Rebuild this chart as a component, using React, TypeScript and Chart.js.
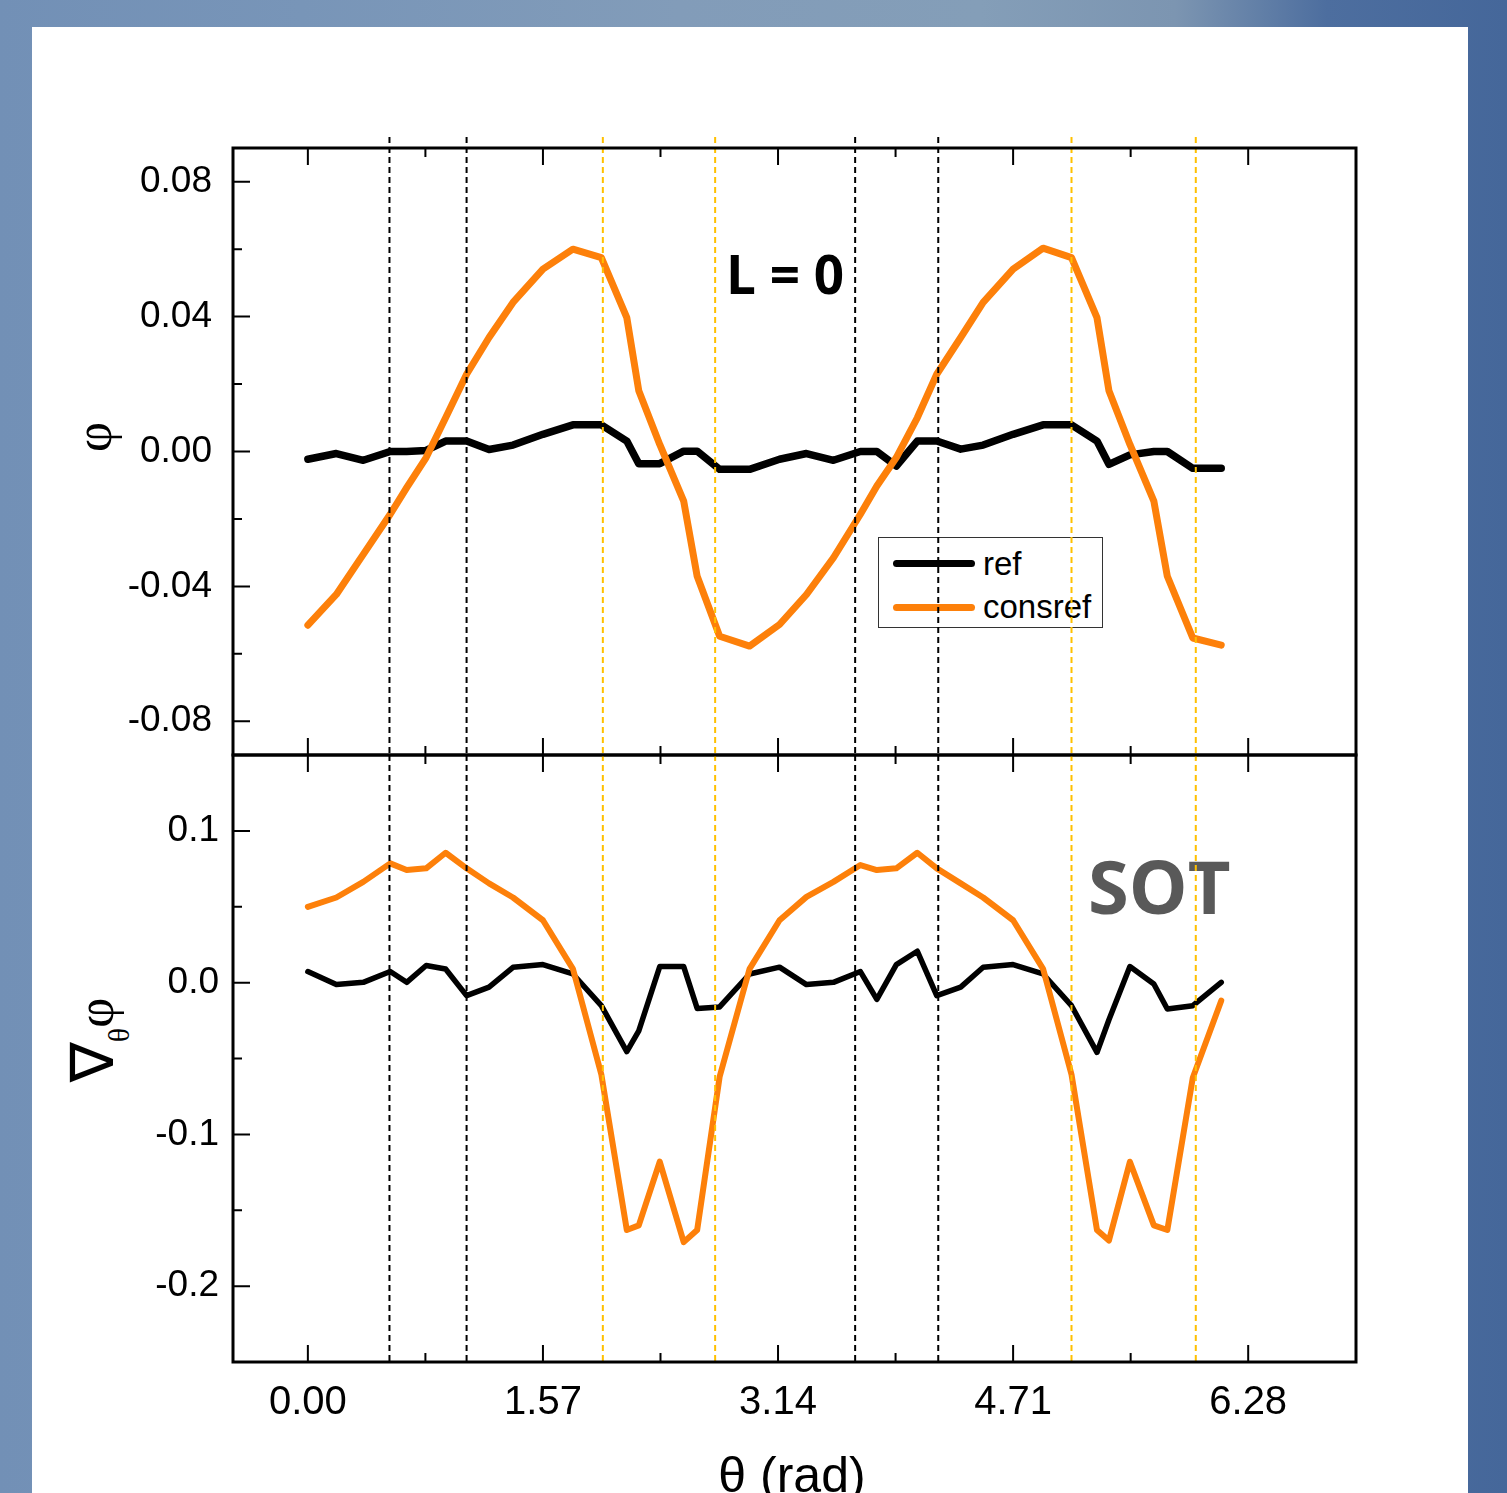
import React, { useEffect, useRef } from "react";
import { Chart, registerables } from "chart.js";

Chart.register(...registerables);

const SANS = '"Liberation Sans", Arial, Helvetica, sans-serif';
const SERIF = '"Liberation Serif", "Times New Roman", serif';
const BOLD = '"Open Sans", "Noto Sans", sans-serif';
const ORANGE = "#fd800a";
const GOLD = "#ffc000";

// theta (rad) sample positions
const theta = [
  0.0, 0.19, 0.37, 0.55, 0.66, 0.79, 0.92, 1.06, 1.21, 1.37, 1.57, 1.77, 1.96, 2.13, 2.21, 2.35, 2.51, 2.6, 2.75, 2.95,
  3.15, 3.33, 3.51, 3.69, 3.8, 3.93, 4.07, 4.2, 4.36, 4.51, 4.71, 4.91, 5.1, 5.27, 5.35, 5.49, 5.65, 5.74, 5.91, 6.1,
];

// top panel: phi
const phiRef = [
  -0.0023, -0.0006, -0.0026, 0.0, 0.0, 0.0003, 0.0031, 0.0031, 0.0006, 0.0019, 0.0051, 0.0079, 0.0079, 0.0031, -0.0036,
  -0.0036, 0.0001, 0.0001, -0.0053, -0.0053,
  -0.0023, -0.0006, -0.0026, 0.0, 0.0, -0.0043, 0.0031, 0.0031, 0.0007, 0.0019, 0.0051, 0.0079, 0.0079, 0.0031, -0.0038,
  -0.001, 0.0, 0.0, -0.005, -0.005,
];
const phiConsref = [
  -0.0515, -0.0424, -0.0305, -0.0186, -0.0107, -0.0018, 0.01, 0.0229, 0.0338, 0.0442, 0.0541, 0.06, 0.0575, 0.0397, 0.018,
  0.0021, -0.0147, -0.037, -0.0548, -0.0577,
  -0.0513, -0.0424, -0.0315, -0.0186, -0.0102, -0.0018, 0.01, 0.0229, 0.0338, 0.0442, 0.0541, 0.0603, 0.0575, 0.0397,
  0.018, 0.0021, -0.0147, -0.037, -0.0553, -0.0574,
];

// bottom panel: grad_theta phi
const gradRef = [
  0.0073, -0.0013, 0.0002, 0.0073, 0.0002, 0.0113, 0.009, -0.0086, -0.003, 0.0101, 0.0119, 0.0057, -0.0152, -0.0455,
  -0.0318, 0.0106, 0.0106, -0.017, -0.016, 0.0057,
  0.0102, -0.0013, 0.0002, 0.0073, -0.011, 0.0119, 0.0207, -0.0086, -0.003, 0.0101, 0.0119, 0.0057, -0.0152, -0.046,
  -0.0245, 0.0106, -0.0009, -0.0174, -0.0152, 0.0002,
];
const gradConsref = [
  0.0499, 0.0561, 0.0664, 0.0786, 0.0742, 0.0753, 0.0856, 0.0753, 0.0654, 0.0561, 0.0411, 0.0091, -0.0605, -0.163,
  -0.16, -0.118, -0.171, -0.163, -0.062, 0.0091,
  0.0411, 0.0565, 0.0664, 0.0775, 0.0742, 0.0753, 0.0856, 0.0753, 0.0654, 0.0561, 0.0411, 0.0091, -0.0605, -0.163,
  -0.17, -0.118, -0.16, -0.163, -0.0627, -0.0119,
];

const seriesLabels = ["ref", "consref"];

const xMajorTicks = [0, 1.57, 3.14, 4.71, 6.28];
const xMinorTicks = [0.785, 2.355, 3.925, 5.495];
const xTickLabels = ["0.00", "1.57", "3.14", "4.71", "6.28"];

const phiMajorTicks = [-0.08, -0.04, 0, 0.04, 0.08];
const phiMinorTicks = [-0.06, -0.02, 0.02, 0.06];
const phiTickLabels = ["-0.08", "-0.04", "0.00", "0.04", "0.08"];

const gradMajorTicks = [-0.2, -0.1, 0, 0.1];
const gradMinorTicks = [-0.15, -0.05, 0.05];
const gradTickLabels = ["-0.2", "-0.1", "0.0", "0.1"];

const blackMarkers = [0.545, 1.06, 3.655, 4.21];
const orangeMarkers = [1.97, 2.72, 5.1, 5.93];

function guidesPlugin(extendTop: number) {
  return {
    id: "guides",
    afterDatasetsDraw(chart: any) {
      const { ctx, chartArea: a } = chart;
      const xs = chart.scales.x;
      ctx.save();
      ctx.lineWidth = 2;
      ctx.setLineDash([6, 4]);
      const draw = (vals: number[], color: string) => {
        ctx.strokeStyle = color;
        ctx.beginPath();
        vals.forEach((v) => {
          const px = xs.getPixelForValue(v);
          ctx.moveTo(px, a.top - extendTop);
          ctx.lineTo(px, a.bottom);
        });
        ctx.stroke();
      };
      draw(blackMarkers, "#000");
      draw(orangeMarkers, GOLD);
      ctx.restore();
    },
  };
}

function framePlugin(yMajor: number[], yMinor: number[]) {
  return {
    id: "frameTicks",
    afterDatasetsDraw(chart: any) {
      const { ctx, chartArea: a } = chart;
      const xs = chart.scales.x;
      const ys = chart.scales.y;
      ctx.save();
      ctx.strokeStyle = "#000";
      ctx.lineWidth = 2;
      ctx.setLineDash([]);
      ctx.beginPath();
      const xt = (vals: number[], len: number) =>
        vals.forEach((v) => {
          const px = xs.getPixelForValue(v);
          ctx.moveTo(px, a.top);
          ctx.lineTo(px, a.top + len);
          ctx.moveTo(px, a.bottom);
          ctx.lineTo(px, a.bottom - len);
        });
      const yt = (vals: number[], len: number) =>
        vals.forEach((v) => {
          const py = ys.getPixelForValue(v);
          ctx.moveTo(a.left, py);
          ctx.lineTo(a.left + len, py);
        });
      xt(xMajorTicks, 17);
      xt(xMinorTicks, 9);
      yt(yMajor, 17);
      yt(yMinor, 9);
      ctx.stroke();
      ctx.lineWidth = 3;
      ctx.strokeRect(a.left, a.top, a.right - a.left, a.bottom - a.top);
      ctx.restore();
    },
  };
}

function lineDataset(label: string, ys: number[], color: string, width: number, order: number) {
  return {
    label,
    data: theta.map((t, i) => ({ x: t, y: ys[i] })),
    borderColor: color,
    backgroundColor: color,
    borderWidth: width,
    pointRadius: 0,
    tension: 0,
    fill: false,
    borderJoinStyle: "round",
    borderCapStyle: "round",
    order,
  };
}

function yScale(min: number, max: number, majors: number[], labels: string[], padding: number) {
  return {
    type: "linear",
    min,
    max,
    afterBuildTicks: (s: any) => {
      s.ticks = majors.map((v) => ({ value: v }));
    },
    afterFit: (s: any) => {
      s.width = 201;
    },
    grid: { display: false, drawTicks: false, tickLength: 0 },
    border: { display: false },
    ticks: {
      color: "#000",
      font: { family: SANS, size: 37 },
      padding,
      autoSkip: false,
      callback: (v: any) => {
        const i = majors.findIndex((m) => Math.abs(m - Number(v)) < 1e-9);
        return i >= 0 ? labels[i] : "";
      },
    },
  };
}

export default function App() {
  const topRef = useRef<HTMLCanvasElement>(null);
  const botRef = useRef<HTMLCanvasElement>(null);

  useEffect(() => {
    document.body.style.overflow = "hidden";
    const top = new Chart(topRef.current as HTMLCanvasElement, {
      type: "line",
      data: {
        datasets: [
          lineDataset(seriesLabels[0], phiRef, "#000", 7.5, 1),
          lineDataset(seriesLabels[1], phiConsref, ORANGE, 7, 0),
        ] as any,
      },
      options: {
        responsive: false,
        animation: false,
        layout: { padding: { top: 48, right: 112, left: 0, bottom: 45 } },
        plugins: { legend: { display: false }, tooltip: { enabled: false } },
        scales: {
          x: { type: "linear", min: -0.5, max: 7, display: false },
          y: yScale(-0.09, 0.09, phiMajorTicks, phiTickLabels, 21),
        } as any,
      },
      plugins: [guidesPlugin(11), framePlugin(phiMajorTicks, phiMinorTicks)] as any,
    });

    const bot = new Chart(botRef.current as HTMLCanvasElement, {
      type: "line",
      data: {
        datasets: [
          lineDataset(seriesLabels[0], gradRef, "#000", 5.5, 1),
          lineDataset(seriesLabels[1], gradConsref, ORANGE, 6, 0),
        ] as any,
      },
      options: {
        responsive: false,
        animation: false,
        layout: { padding: { top: 55, right: 112, left: 0, bottom: 0 } },
        plugins: { legend: { display: false }, tooltip: { enabled: false } },
        scales: {
          x: {
            type: "linear",
            min: -0.5,
            max: 7,
            position: "bottom",
            afterBuildTicks: (s: any) => {
              s.ticks = xMajorTicks.map((v) => ({ value: v }));
            },
            afterFit: (s: any) => {
              s.height = 131;
            },
            grid: { display: false, drawTicks: false, tickLength: 0 },
            border: { display: false },
            ticks: {
              color: "#000",
              font: { family: SANS, size: 40 },
              padding: 17,
              autoSkip: false,
              maxRotation: 0,
              callback: (v: any) => {
                const i = xMajorTicks.findIndex((m) => Math.abs(m - Number(v)) < 1e-9);
                return i >= 0 ? xTickLabels[i] : "";
              },
            },
          },
          y: yScale(-0.25, 0.15, gradMajorTicks, gradTickLabels, 14),
        } as any,
      },
      plugins: [guidesPlugin(0), framePlugin(gradMajorTicks, gradMinorTicks)] as any,
    });

    return () => {
      top.destroy();
      bot.destroy();
    };
  }, []);

  const abs = (s: React.CSSProperties): React.CSSProperties => ({ position: "absolute", ...s });

  return (
    <div
      style={{
        position: "absolute",
        left: 0,
        top: 0,
        width: 1507,
        height: 1493,
        overflow: "hidden",
        background:
          "linear-gradient(90deg, #7290b6 0%, #7895b8 20%, #829cb9 45%, #849eb8 65%, #7c95b1 78%, #4d6e9f 88%, #45679a 100%)",
      }}
    >
      <div style={abs({ left: 32, top: 27, width: 1436, height: 1466, background: "#fff" })} />

      {/* legend */}
      <div
        style={abs({
          left: 878,
          top: 537,
          width: 225,
          height: 91,
          border: "1.5px solid #333",
          boxSizing: "border-box",
        })}
      />
      <div style={abs({ left: 893, top: 560, width: 82, height: 7, borderRadius: 4, background: "#000" })} />
      <div style={abs({ left: 893, top: 604, width: 82, height: 7, borderRadius: 4, background: ORANGE })} />
      <div style={abs({ left: 983, top: 547, fontFamily: SANS, fontSize: 33, lineHeight: 1, color: "#000" })}>
        {seriesLabels[0]}
      </div>
      <div style={abs({ left: 983, top: 590, fontFamily: SANS, fontSize: 33, lineHeight: 1, color: "#000" })}>
        {seriesLabels[1]}
      </div>

      {/* annotations */}
      <div
        style={abs({
          left: 726,
          top: 247,
          fontFamily: BOLD,
          fontWeight: 700,
          fontSize: 53,
          lineHeight: 1,
          color: "#000",
          whiteSpace: "nowrap",
        })}
      >
        L = 0
      </div>
      <div
        style={abs({
          left: 1088,
          top: 849,
          fontFamily: BOLD,
          fontWeight: 700,
          fontSize: 74,
          lineHeight: 1,
          color: "#595959",
          whiteSpace: "nowrap",
        })}
      >
        SOT
      </div>

      {/* axis titles */}
      <div
        style={abs({
          left: 94,
          top: 437,
          transform: "translate(-50%, -50%) rotate(-90deg)",
          fontFamily: SERIF,
          fontSize: 52,
          lineHeight: 1,
          color: "#000",
          whiteSpace: "nowrap",
        })}
      >
        φ
      </div>
      <div
        style={abs({
          left: 92,
          top: 1040,
          transform: "translate(-50%, -50%) rotate(-90deg)",
          lineHeight: 1,
          color: "#000",
          whiteSpace: "nowrap",
        })}
      >
        <span style={{ fontFamily: '"DejaVu Sans", sans-serif', fontSize: 60 }}>∇</span>
        <span style={{ fontFamily: SERIF, fontSize: 30, position: "relative", top: 16 }}>θ</span>
        <span style={{ fontFamily: SERIF, fontSize: 52 }}>φ</span>
      </div>
      <div
        style={abs({
          left: 792,
          top: 1450,
          transform: "translateX(-50%)",
          fontFamily: SANS,
          fontSize: 50,
          lineHeight: 1,
          color: "#000",
          whiteSpace: "nowrap",
        })}
      >
        θ (rad)
      </div>

      <canvas ref={topRef} width={1436} height={700} style={abs({ left: 32, top: 100, width: 1436, height: 700 })} />
      <canvas ref={botRef} width={1436} height={793} style={abs({ left: 32, top: 700, width: 1436, height: 793 })} />
    </div>
  );
}
